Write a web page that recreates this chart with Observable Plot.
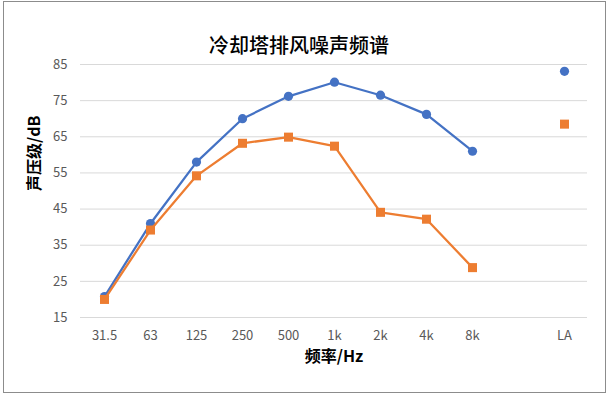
<!DOCTYPE html>
<html>
<head>
<meta charset="utf-8">
<script src="https://cdn.jsdelivr.net/npm/d3@7"></script>
<script src="https://cdn.jsdelivr.net/npm/@observablehq/plot@0.6"></script>
<style>
  html, body { margin: 0; padding: 0; background: #fff; }
  svg { display: block; }
</style>
</head>
<body>
<div id="chart"></div>
<script>
const categories = ["31.5", "63", "125", "250", "500", "1k", "2k", "4k", "8k", "", "LA"];
const bands = ["31.5", "63", "125", "250", "500", "1k", "2k", "4k", "8k"];
const seriesA = [20.8, 41.0, 58.0, 70.0, 76.2, 80.1, 76.5, 71.2, 61.0];
const seriesB = [20.0, 39.2, 54.2, 63.2, 64.9, 62.4, 44.1, 42.2, 28.8];
const laA = 83.1;
const laB = 68.5;
const yTicks = [15, 25, 35, 45, 55, 65, 75, 85];
const title = "冷却塔排风噪声频谱";
const xLabel = "频率/Hz";
const yLabel = "声压级/dB";

const blue = "#4472C4";
const orange = "#ED7D31";

const dataA = bands.map((c, i) => ({c, v: seriesA[i]}));
const dataB = bands.map((c, i) => ({c, v: seriesB[i]}));
const dotsA = [...dataA, {c: "LA", v: laA}];
const dotsB = [...dataB, {c: "LA", v: laB}];

const font = "'Noto Sans CJK SC', 'Noto Sans', sans-serif";

const chart = Plot.plot({
  width: 610,
  height: 397,
  marginLeft: 80,
  marginRight: 23,
  marginTop: 64,
  marginBottom: 80,
  style: {fontFamily: font, fontSize: "13px", color: "#595959", background: "#fff"},
  x: {type: "point", domain: categories, padding: 0.5, axis: null},
  y: {domain: [15, 85], axis: null},
  marks: [
    Plot.frame({stroke: "#8c8c8c", insetLeft: -77, insetTop: -63, insetRight: -18, insetBottom: -75}),
    Plot.gridY(yTicks, {stroke: "#d9d9d9", strokeOpacity: 1, strokeWidth: 1}),
    Plot.axisY(yTicks, {tickSize: 0, tickPadding: 13, label: null, fill: "#595959", fontSize: 13}),
    Plot.axisX(categories.filter(d => d !== ""), {tickSize: 0, tickPadding: 13, label: null, fill: "#595959", fontSize: 13, anchor: "bottom"}),
    Plot.line(dataA, {x: "c", y: "v", stroke: blue, strokeWidth: 2.25}),
    Plot.dot(dotsA, {x: "c", y: "v", r: 4.6, fill: blue, symbol: "circle"}),
    Plot.line(dataB, {x: "c", y: "v", stroke: orange, strokeWidth: 2.25}),
    Plot.dot(dotsB, {x: "c", y: "v", r: 5.1, fill: orange, symbol: "square"}),
    Plot.text([title], {frameAnchor: "top", dx: -35, dy: -26, fontSize: 20, fontWeight: 500, fill: "#000"}),
    Plot.text([xLabel], {frameAnchor: "bottom", dy: 44, fontSize: 16, fontWeight: "bold", fill: "#000"}),
    Plot.text([yLabel], {frameAnchor: "left", dx: -46, rotate: -90, fontSize: 16, fontWeight: "bold", fill: "#000"})
  ]
});
document.getElementById("chart").appendChild(chart);
</script>
</body>
</html>
